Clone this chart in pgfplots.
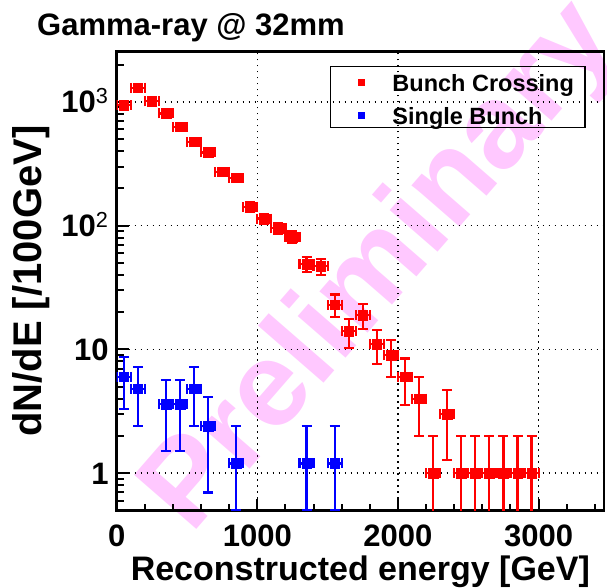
\documentclass[border=0pt]{standalone}
\usepackage{fontspec}
\setmainfont{Liberation Sans}
\usepackage{pgfplots}
\usepackage{pgfplotstable}
\pgfplotsset{compat=1.18}
\definecolor{wm}{RGB}{255,200,255}
\definecolor{rootred}{RGB}{255,0,0}
\definecolor{rootblue}{RGB}{0,0,255}

\pgfplotstableread{
x y ep em
50 940 30.66 30.66
150 1300 36.06 36.06
250 1010 31.78 31.78
350 806 28.39 28.39
450 628 25.06 25.06
550 475 21.79 21.79
650 390 19.75 19.75
750 272 16.49 16.49
850 243 15.59 15.59
950 142 11.92 11.92
1050 114 10.68 10.68
1150 95 9.75 9.75
1250 81 9.00 9.00
1350 49 7.00 7.00
1450 47 6.86 6.86
1550 23 4.80 4.80
1650 14 3.74 3.74
1750 19 4.36 4.36
1850 11 3.32 3.32
1950 9 3.00 3.00
2050 6 2.45 2.45
2150 4 2.00 2.00
2250 1 1.00 0.99
2350 3 1.73 1.73
2450 1 1.00 0.99
2550 1 1.00 0.99
2650 1 1.00 0.99
2750 1 1.00 0.99
2850 1 1.00 0.99
2950 1 1.00 0.99
}\redtab

\pgfplotstableread{
x y ep em
50 6.0 2.68 2.68
150 4.8 2.40 2.40
350 3.6 2.08 2.08
450 3.6 2.08 2.08
550 4.8 2.40 2.40
650 2.4 1.70 1.70
850 1.2 1.20 0.70
1350 1.2 1.20 0.70
1550 1.2 1.20 0.70
}\bluetab

\begin{document}
\begin{tikzpicture}
\useasboundingbox (-116.7bp,-77.5bp) rectangle (490.3bp,510.5bp);
\node[rotate=49, text=wm, font=\fontsize{120bp}{120bp}\selectfont\bfseries] at (266bp,242bp) {Preliminary};
\begin{axis}[
  at={(0,0)}, anchor=south west,
  scale only axis, width=487.3bp, height=458.8bp,
  xmin=0, xmax=3465, ymode=log, ymin=0.5, ymax=2540,
  axis line style={line width=2.5bp, black},
  xtick={0,1000,2000,3000},
  xticklabels={0,1000,2000,3000},
  minor xtick={200,400,600,800,1200,1400,1600,1800,2200,2400,2600,2800,3200,3400},
  ytick={1,10,100,1000},
  yticklabels={1,10,10\textsuperscript{\mdseries 2},10\textsuperscript{\mdseries 3}},
  minor ytick={0.5,0.6,0.7,0.8,0.9,2,3,4,5,6,7,8,9,20,30,40,50,60,70,80,90,200,300,400,500,600,700,800,900,2000},
  tick align=inside, xtick pos=left, ytick pos=left,
  major tick length=12bp, minor tick length=7bp,
  tick style={line width=2bp, black},
  grid=major,
  major grid style={dash pattern=on 1.5bp off 4.5bp, line width=1.5bp, black},
  tick label style={font=\fontsize{31bp}{31bp}\selectfont\bfseries},
  xticklabel style={anchor=north, inner sep=0pt, yshift=-14.5bp},
  yticklabel style={anchor=base east, inner sep=0pt, xshift=-8bp, yshift=-11bp},
  xlabel={Reconstructed energy [GeV]},
  ylabel={dN/dE [/100GeV]},
  every axis x label/.style={at={(axis description cs:0.5,0)}, anchor=base, inner sep=0pt, yshift=-69.5bp, font=\fontsize{34bp}{34bp}\selectfont\bfseries},
  every axis y label/.style={at={(axis description cs:-0.1765,0.5)}, rotate=90, anchor=center, inner sep=0pt, font=\fontsize{40bp}{40bp}\selectfont\bfseries},
  legend style={at={(0.9624,0.9695)}, anchor=north east, draw=black, line width=1.5bp, fill=none, inner xsep=11bp, inner ysep=0bp, row sep=5bp, font=\fontsize{23.5bp}{23.5bp}\selectfont\bfseries, nodes={inner xsep=0bp, inner ysep=0pt, text height=25bp, text depth=3bp}},
  legend cell align=left,
]
\addplot[only marks, mark=square*, mark size=4.8bp, color=rootred, forget plot,
  error bars/.cd, x dir=both, x fixed=50, y dir=both, y explicit,
  error bar style={line width=2.2bp, color=rootred},
  error mark options={rotate=90, line width=2.2bp, mark size=5bp, color=rootred}]
  table[x=x, y=y, y error plus=ep, y error minus=em] {\redtab};
\addplot[only marks, mark=square*, mark size=4.8bp, color=rootblue, forget plot,
  error bars/.cd, x dir=both, x fixed=50, y dir=both, y explicit,
  error bar style={line width=2.2bp, color=rootblue},
  error mark options={rotate=90, line width=2.2bp, mark size=5bp, color=rootblue}]
  table[x=x, y=y, y error plus=ep, y error minus=em] {\bluetab};
\addlegendimage{legend image code/.code={\path[draw=none,fill=none] (0bp,0bp) -- (51bp,0bp); \fill[rootred, draw=none] (16.5bp,-6bp) rectangle (23.5bp,1bp);}}
\addlegendentry{Bunch Crossing}
\addlegendimage{legend image code/.code={\path[draw=none,fill=none] (0bp,0bp) -- (51bp,0bp); \fill[rootblue, draw=none] (16.5bp,-6bp) rectangle (23.5bp,1bp);}}
\addlegendentry{Single Bunch}
\end{axis}
\node[anchor=base west, inner sep=0pt, font=\fontsize{31bp}{31bp}\selectfont\bfseries] at (-79.7bp,475bp) {Gamma-ray @ 32mm};
\end{tikzpicture}
\end{document}
